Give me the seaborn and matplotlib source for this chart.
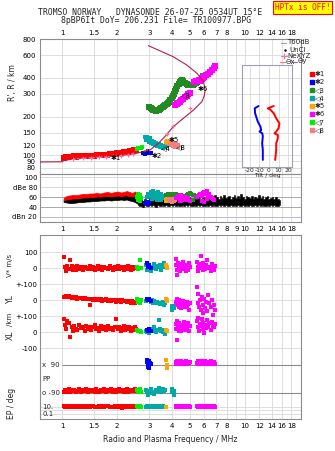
import numpy as np
import matplotlib
matplotlib.use("Agg")
import matplotlib.pyplot as plt
import seaborn as sns
from matplotlib.lines import Line2D
from matplotlib.ticker import FixedLocator, NullLocator

# ---------------- data ----------------
freq_ticks = [1, 1.5, 2, 3, 4, 5, 6, 7, 8, 9, 10, 12, 14, 16, 18]
freq_labels_top = ["1", "1.5", "2", "3", "4", "5", "6", "7", "8", "", "10", "12", "14", "16", "18"]
freq_labels_amp = ["1", "1.5", "2", "3", "4", "5", "6", "7", "8", "9", "10", "12", "14", "16", "18"]
height_ticks = [80, 90, 100, 120, 150, 200, 300, 400, 600, 800]

# true-height profile
prof_f = [0.76, 1.0, 1.02, 1.15, 1.5, 2.0, 2.5, 2.8, 3.03, 3.2, 3.37, 3.66, 4.06, 4.61, 5.24,
          5.82, 6.0, 6.07, 5.94, 5.47, 4.81, 4.06, 2.97]
prof_h = [88.7, 89, 91, 93.6, 96, 99, 103, 106.7, 110, 117, 124, 140, 167, 194, 225,
          261, 290, 322, 374, 435, 505, 585, 713]
# NeXYZ points
nexyz_f = [1.15, 1.3, 1.45, 1.6, 1.75, 1.9, 2.1, 2.3, 2.45]
nexyz_h = [93.6, 94.8, 95.8, 96.5, 97.2, 98, 99.5, 101, 102.5]
nexyz_up_f = [3.74, 4.06, 5.0]
nexyz_up_h = [146, 170, 235]

# echo traces (height panel)
o1_f = [1.02, 1.05, 1.08, 1.11, 1.14, 1.17, 1.20, 1.24, 1.28, 1.32, 1.36, 1.40, 1.45, 1.50, 1.55, 1.60,
        1.65, 1.70, 1.76, 1.82, 1.88, 1.94, 2.00, 2.06, 2.12, 2.18, 2.24, 2.30, 2.36, 2.42, 2.48, 2.54]
o1_h = [96, 97, 96.5, 97.5, 97, 98, 97.5, 98.5, 98, 99, 98.5, 99, 99.5, 99, 100, 100.5,
        100, 101, 101, 102, 102.5, 103, 103.5, 104, 105, 105.5, 106, 106.5, 107.5, 108, 109, 110]
t7_f = [2.58, 2.62, 2.66, 2.70, 2.74]
t7_h = [112, 113, 114, 113, 115]
t2_f = [2.78, 2.84, 2.90, 2.96, 3.02, 3.08]
t2_h = [104, 103, 103.5, 104, 104.5, 105]
t4_f = [2.86, 2.88, 2.92, 2.95, 2.98, 3.02, 3.05, 3.10, 3.14, 3.18, 3.22, 3.28, 3.33, 3.38, 3.45, 3.50,
        3.56, 3.62, 3.68, 3.74]
t4_h = [138, 132, 140, 134, 128, 136, 124, 130, 122, 127, 120, 124, 118, 122, 116, 120,
        114, 118, 115, 119]
t8_f = [3.78, 3.84, 3.90, 3.96, 4.02, 4.08, 4.14, 4.20, 4.26]
t8_h = [128, 127, 125, 124, 122, 121, 120, 119, 118]
t5_f = [3.70, 3.73]
t5_h = [127, 130]
t3_f = [3.00, 3.05, 3.10, 3.15, 3.20, 3.26, 3.32, 3.38, 3.44, 3.50, 3.56, 3.62, 3.68, 3.74, 3.80, 3.86,
        3.92, 3.98, 4.04, 4.10, 4.16, 4.22, 4.28, 4.34, 4.40, 4.46, 4.52, 4.60, 4.70, 4.80, 4.90, 5.00,
        5.10, 5.20, 5.30, 5.40, 5.50, 5.60, 5.70, 5.80, 5.90]
t3_h = [238, 232, 228, 226, 224, 222, 224, 226, 228, 232, 236, 240, 245, 250, 256, 262,
        270, 280, 290, 302, 315, 330, 345, 360, 372, 382, 388, 380, 366, 358, 354, 352,
        352, 354, 358, 364, 370, 378, 388, 400, 415]
t6a_f = [4.16, 4.24, 4.32, 4.40, 4.50, 4.60, 4.70, 4.80, 4.90, 5.00]
t6a_h = [246, 250, 256, 262, 268, 274, 282, 290, 298, 306]
t6b_f = [5.30, 5.40, 5.50, 5.60, 5.70, 5.80, 5.90, 6.00, 6.15, 6.30, 6.45, 6.60, 6.75, 6.88]
t6b_h = [372, 380, 376, 384, 380, 390, 396, 404, 418, 432, 446, 460, 476, 492]

# tilt inset
tilt_h_blue = [242, 232, 212, 183, 167, 157, 153, 148, 140, 124, 110, 92]
tilt_blue = [-11, -15, -14.6, -11.8, -9, -8.2, -10, -7, -6.5, -7.2, -6.5, -6.5]
tilt_h_red = [242, 238, 232, 226, 212, 194, 177, 162, 153, 148, 144, 136, 124, 110, 92]
tilt_red = [5, 2.3, -1.3, 1.6, 5, 7.6, 11, 10, 7.6, 5.8, 9.3, 9.3, 7.6, 7.6, 6.5]

# amplitude panel
amp_red_f = [1.02, 1.06, 1.10, 1.15, 1.20, 1.25, 1.30, 1.36, 1.42, 1.48, 1.55, 1.62, 1.70, 1.78, 1.86,
             1.94, 2.02, 2.10, 2.18, 2.26, 2.34, 2.42, 2.50, 2.56, 2.60]
amp_red_hi = [58, 62, 63, 64, 64, 65, 66, 66, 67, 67, 68, 67, 69, 70, 68, 70, 71, 69, 70, 72, 70, 68, 71, 69, 64]
amp_red_lo = [54, 55, 56, 57, 57, 58, 59, 59, 60, 60, 61, 61, 62, 62, 61, 62, 63, 62, 63, 63, 62, 61, 62, 60, 56]
amp_blk_lo = [50, 49, 48, 48, 49, 50, 50, 51, 51, 52, 52, 53, 53, 54, 53, 54, 54, 55, 54, 55, 53, 52, 50, 48, 46]
noise_f = [2.60, 2.66, 2.72, 2.78, 2.84, 2.90, 2.96, 3.02, 3.08, 3.14, 3.20, 3.27, 3.34, 3.41, 3.48, 3.55,
           3.62, 3.70, 3.78, 3.86, 3.94, 4.02, 4.10, 4.19, 4.28, 4.37, 4.46, 4.56, 4.66, 4.76, 4.86, 4.97,
           5.08, 5.19, 5.30, 5.42, 5.54, 5.66, 5.78, 5.91, 6.04, 6.17, 6.31, 6.45, 6.59, 6.74, 6.89, 7.04,
           7.20, 7.36, 7.52, 7.69, 7.86, 8.03, 8.21, 8.39, 8.58, 8.77, 8.96, 9.16, 9.36, 9.57, 9.78, 10.0,
           10.2, 10.4, 10.7, 10.9, 11.2, 11.4, 11.7, 11.9, 12.2, 12.5, 12.7, 13.0, 13.3, 13.6, 13.9, 14.2,
           14.5, 14.8, 15.2, 15.5]
noise_top = [60, 55, 58, 52, 56, 50, 54, 58, 52, 55, 57, 53, 60, 55, 58, 54, 56, 52, 57, 55, 53, 58, 56, 54,
             57, 55, 59, 56, 53, 58, 55, 60, 57, 54, 59, 56, 62, 58, 55, 60, 57, 63, 59, 56, 61, 58, 64, 60,
             57, 62, 59, 65, 58, 61, 63, 57, 60, 64, 58, 62, 59, 66, 61, 57, 63, 60, 58, 62, 56, 61, 59, 64,
             58, 62, 57, 60, 63, 56, 59, 61, 57, 60, 56, 55]
noise_base = [44, 42, 43, 41, 44, 42, 43, 45, 42, 44, 43, 41, 44, 42, 43, 45, 42, 44, 43, 42, 44, 43, 45, 42,
              44, 43, 42, 44, 43, 45, 42, 44, 43, 42, 44, 43, 45, 42, 44, 43, 42, 44, 43, 45, 42, 44, 43, 42,
              44, 43, 45, 42, 44, 43, 42, 44, 43, 45, 42, 44, 43, 42, 44, 43, 45, 42, 44, 43, 42, 44, 43, 45,
              42, 44, 43, 42, 44, 43, 45, 42, 44, 43, 42, 44]
amp_teal_f = [2.9, 2.95, 3.0, 3.05, 3.1, 3.15, 3.2, 3.25, 3.3, 3.35, 3.4, 3.45, 3.5, 3.55, 3.6, 3.1, 3.2, 3.3, 3.4, 3.5]
amp_teal = [60, 66, 62, 70, 64, 72, 66, 68, 62, 70, 65, 60, 67, 63, 58, 56, 58, 55, 57, 54]
amp_lime_f = [2.58, 2.62, 2.66, 2.70, 2.62, 2.66]
amp_lime = [60, 66, 64, 58, 55, 52]
amp_blue_f = [2.85, 2.9, 2.95, 3.0]
amp_blue = [48, 50, 47, 51]
amp_orange_f = [3.7, 3.72, 3.74]
amp_orange = [55, 52, 58]
amp_salmon_f = [3.8, 3.86, 3.92, 3.98, 4.04, 4.1, 4.16, 3.9, 4.0]
amp_salmon = [58, 56, 55, 57, 54, 52, 55, 52, 50]
amp_green_f = [3.7, 3.8, 3.9, 4.0, 4.1, 4.2, 4.3, 4.4, 4.5, 4.6, 4.7, 4.8, 4.9, 5.0, 5.1, 5.2, 5.3, 5.4, 5.5,
               4.5, 4.9, 5.2]
amp_green = [64, 66, 65, 67, 64, 66, 63, 65, 62, 60, 62, 64, 66, 68, 66, 64, 65, 62, 60, 52, 56, 54]
amp_mag_f = [4.2, 4.3, 4.4, 4.5, 4.6, 4.7, 4.8, 4.9, 5.0, 5.5, 5.6, 5.7, 5.8, 5.9, 6.0, 6.1, 6.2, 6.3, 6.4,
             6.5, 6.6, 6.7, 6.8, 4.4, 4.6, 5.8, 6.0, 6.2]
amp_mag = [58, 62, 60, 64, 56, 60, 54, 58, 52, 60, 64, 66, 62, 68, 70, 66, 72, 62, 66, 60, 58, 56, 55,
           52, 54, 52, 50, 56]

# lower panel: red O echoes
red_f = [1.02, 1.04, 1.05, 1.07, 1.09, 1.11, 1.13, 1.15, 1.17, 1.19, 1.21, 1.24, 1.27, 1.30, 1.33, 1.36,
         1.39, 1.42, 1.45, 1.48, 1.51, 1.54, 1.57, 1.60, 1.63, 1.66, 1.70, 1.74, 1.78, 1.82, 1.86, 1.90,
         1.94, 1.98, 2.02, 2.06, 2.10, 2.14, 2.18, 2.22, 2.26, 2.30, 2.34, 2.38, 2.42, 2.46, 2.50, 2.55]
red_v = [72, 10, -20, 12, -5, 50, 15, -12, 8, -8, 12, -4, 6, -10, 10, 2, -6, 14, -2, 8, -12, 4, 16, -4,
         6, -8, 10, 0, -6, 12, 4, -10, 8, -2, 14, -6, 2, 10, -8, 6, -4, 12, 0, -10, 8, -2, 6, 0]
red_yl = [20, 22, 25, 18, 24, 20, 15, 22, 12, 18, 10, 16, 14, 8, 12, 6, 10, -31, 8, 4, 10, 2, 6, 0,
          8, -2, 4, 6, -4, 2, -6, 4, 0, -8, 2, -4, -10, 0, -6, -2, -12, -4, -8, -14, -6, -10, -16, -12]
red_xl = [80, 45, 20, 70, 60, -30, 35, 10, 40, 20, 15, 45, 25, 30, 10, 40, 20, 35, 15, 30, 45, 20, 25, 10,
          38, 22, 30, 15, 40, 20, 28, 12, 35, 80, 18, 30, 10, 25, 40, 15, 30, 20, 35, 10, 25, 15, 30, 20]
red_pp = [10, 20, 5, 15, 25, 8, 18, 12, 22, 5, 15, 28, 10, 20, 12, 25, 8, 18, 14, 22, 10, 26, 16, 6,
          20, 12, 24, 8, 18, 14, 28, 10, 20, 6, 16, 24, 12, 22, 8, 18, 26, 10, 16, 22, 12, 20, 28, 15]
red_ep = [12, 9, 15, 10, 8, 14, 11, 7, 13, 10, 16, 9, 12, 6, 14, 10, 18, 8, 12, 15, 9, 11, 7, 13,
          10, 16, 8, 12, 14, 9, 11, 6, 13, 10, 15, 8, 12, 5, 11, 14, 9, 12, 7, 13, 10, 8, 12, 9]

teal_f = [2.88, 2.92, 2.96, 3.00, 3.05, 3.10, 3.15, 3.20, 3.26, 3.32, 3.38, 3.44, 3.50, 3.56, 3.62, 3.68]
teal_v = [20, -10, 15, 5, -20, 10, 0, 25, -5, 15, 5, 20, -10, 10, 30, 5]
teal_yl = [-5, 10, 0, 5, -10, 0, -15, -5, -20, -10, -15, -25, -20, -10, -30, -15]
teal_xl = [10, 0, 15, -5, 20, 5, 10, 35, 0, 15, 75, 20, 10, 0, 15, -10]
teal_pp = [20, 5, -10, 15, 25, 0, 10, -5, 20, 15, 30, 5, 10, 25, 15, 20]
teal_ep = [10, 14, 8, 12, 16, 9, 11, 13, 7, 12, 10, 15, 9, 12, 8, 11]
teal2_f = [3.98, 4.02, 4.08, 4.1]
teal2_yl = [-35, -62, -45, -50]
teal2_pp = [25, 5, 15, -10]

blue_f = [2.90, 2.95, 3.00, 3.05]
blue_v = [30, 10, 20, 0]
blue_yl = [10, 0, 5, -5]
blue_xl = [15, 5, 20, 10]
blue_x90_f = [2.90, 2.93, 2.96, 2.99, 3.02, 3.05, 2.95, 3.00]
blue_x90 = [20, 30, 10, 25, 15, 5, -10, -20]

lime_f = [2.58, 2.62, 2.66, 2.70]
lime_v = [10, -5, 50, 0]
lime_yl = [5, -10, -15, 0]
lime_xl = [15, 5, 10, 0]
lime_pp = [20, 10, 25, 5]
lime_ep = [12, 8, 14, 10]

orange_f = [3.72, 3.74, 3.76]
orange_v = [20, 0, 10]
orange_yl = [5, 0, -5]
orange_xl = [15, 5, 10]
orange_x90 = [30, 0, -20]

magA_f = [4.18, 4.22, 4.26, 4.30, 4.34, 4.38, 4.42, 4.46, 4.50, 4.55, 4.60, 4.65, 4.70, 4.75, 4.80, 4.85,
          4.90, 4.95, 5.00, 4.28]
magA_v = [60, 20, -10, 30, 5, 15, -20, 10, 25, -5, 40, 0, 15, -15, 20, 5, -10, 30, 10, -40]
magA_yl = [-10, -30, 10, -20, -40, 0, -25, -50, -15, -35, -5, -30, -45, -20, -10, -40, -25, -60, -15, 5]
magA_xl = [50, 20, 70, 35, 10, 60, 25, 45, 5, 40, 30, 65, 15, 50, 35, 20, 55, 10, 40, -50]
magA_x90 = [20, 10, 25, 5, 15, 20, 10, 25, 5, 15, 20, 10, 15, 25, 5, 20, 10, 15, 20, 10]
magA_ep = [10, 14, 8, 12, 9, 15, 11, 7, 13, 10, 12, 8, 14, 11, 9, 13, 10, 12, 8, 11]
magB_f = [5.45, 5.52, 5.58, 5.64, 5.70, 5.76, 5.82, 5.88, 5.94, 6.00, 6.08, 6.16, 6.24, 6.32, 6.40, 6.50,
          6.60, 6.70, 6.80, 6.90]
magB_v = [40, 10, -20, 25, 0, 75, 15, -10, 30, 5, -5, 20, 50, 0, 10, -15, 25, 5, -10, 15]
magB_yl = [80, -20, 40, -40, 0, -60, 20, -80, -30, 10, -50, -10, -70, 30, -20, -40, 0, -90, -30, -60]
magB_xl = [70, 30, 90, 10, 50, 40, 80, 20, 60, -5, 45, 25, 75, 35, 55, 15, 65, 40, 30, 50]
magB_x90 = [15, 25, 5, 20, 10, 25, 15, 5, 20, 10, 25, 15, 5, 20, 10, 25, 15, 5, 20, 10]
magB_ep = [12, 9, 14, 10, 8, 13, 11, 15, 9, 12, 10, 14, 8, 11, 13, 9, 12, 10, 14, 11]

legend_labels = ["\u27311", "\u27312", "\u25c13", "\u25c14", "\u27315", "\u27316", "\u25c17", "\u25c18"]
C = ["#ff0000", "#0000ff", "#228b22", "#00a8a8", "#ffa500", "#ff00ff", "#00ee00", "#f08080"]
PROF_C = "#b01e4a"
PINK = "#ff6fa0"
GRID = "#d9d9d9"
SPINE = "#8c8c8c"

# ---------------- figure ----------------
sns.set_theme(style="white")
plt.rcParams['font.family'] = ['DejaVu Sans']
W, H = 335, 451
fig = plt.figure(figsize=(W / 100, H / 100), dpi=100)


def rect(x0, y0, x1, y1):
    return [x0 / W, 1 - y1 / H, (x1 - x0) / W, (y1 - y0) / H]


def fx(px):
    return px / W


def fy(py):
    return 1 - py / H


ax_h = fig.add_axes(rect(40, 38.5, 301, 174))
ax_a = fig.add_axes(rect(40, 174, 301, 222))
ax_l = fig.add_axes(rect(40, 235, 301, 419.3))
ax_t = fig.add_axes(rect(242, 65, 292, 167))

XL_ = (0.758, 20.3)
for ax in (ax_h, ax_a, ax_l):
    ax.set_xscale('log')
    ax.set_xlim(*XL_)
    ax.xaxis.set_major_locator(FixedLocator(freq_ticks))
    ax.xaxis.set_minor_locator(NullLocator())
    ax.grid(True, axis='x', color=GRID, lw=0.6)
    for s in ax.spines.values():
        s.set_color(SPINE)
        s.set_linewidth(0.8)
    ax.tick_params(labelsize=5, length=0, pad=2, colors='black')
    ax.set_facecolor('white')


def pts(ax, x, y, c, s=6, m='s', z=3):
    sns.scatterplot(x=list(x), y=list(y), ax=ax, color=c, marker=m, s=s,
                    linewidth=0, legend=False, zorder=z)


# ---- height panel ----
ax_h.set_yscale('log')
ax_h.set_ylim(71.5, 811)
ax_h.yaxis.set_major_locator(FixedLocator(height_ticks))
ax_h.yaxis.set_minor_locator(NullLocator())
ax_h.set_yticklabels([str(v) for v in height_ticks])
ax_h.grid(True, axis='y', color=GRID, lw=0.6)
ax_h.xaxis.tick_top()
ax_h.set_xticklabels(freq_labels_top)
ax_h.tick_params(axis='x', labeltop=True, labelbottom=False, pad=1.5)
ax_h.tick_params(axis='y', pad=3)

sns.lineplot(x=prof_f, y=prof_h, sort=False, estimator=None, ax=ax_h, color=PROF_C, lw=0.8, zorder=4)
sns.lineplot(x=nexyz_f, y=nexyz_h, sort=False, estimator=None, ax=ax_h, color=PINK, lw=0.8,
             linestyle=(0, (2, 1.5)), zorder=4)
pts(ax_h, nexyz_f + nexyz_up_f, nexyz_h + nexyz_up_h, PINK, s=12, m='+', z=5)
ax_h.collections[-1].set_linewidth(0.8)

pts(ax_h, o1_f, o1_h, C[0], s=14)
pts(ax_h, t7_f, t7_h, C[6], s=12)
pts(ax_h, t2_f, t2_h, C[1], s=12)
pts(ax_h, t4_f, t4_h, C[3], s=10)
pts(ax_h, t8_f, t8_h, C[7], s=14)
pts(ax_h, t5_f, t5_h, C[4], s=8)
pts(ax_h, t3_f, t3_h, C[2], s=16)
pts(ax_h, t6a_f, t6a_h, C[5], s=16)
pts(ax_h, t6b_f, t6b_h, C[5], s=16)

lab_kw = dict(fontsize=5, color='black', ha='left', va='center', zorder=6)
for txt, f, h in [("\u27311", 1.85, 96), ("\u27312", 3.08, 99), ("\u25c17", 2.70, 108),
                  ("\u25c14", 3.50, 113), ("\u27315", 3.85, 132), ("\u25c18", 4.22, 116),
                  ("\u25c13", 4.45, 293), ("\u27316", 5.50, 330)]:
    ax_h.text(f, h, txt, **lab_kw)

# ---- tilt inset ----
ax_t.set_yscale('log')
ax_t.set_ylim(81, 505)
ax_t.set_xlim(-28.4, 24.2)
ax_t.yaxis.set_major_locator(FixedLocator([100, 120, 150, 200, 300, 400]))
ax_t.yaxis.set_minor_locator(NullLocator())
ax_t.set_yticklabels([])
ax_t.set_xticks([-20, -10, 0, 10, 20])
ax_t.set_xticklabels(["-20", "-10", "0", "10", "20"])
ax_t.grid(True, color=GRID, lw=0.6)
ax_t.tick_params(labelsize=4.3, length=0, pad=1)
ax_t.set_xlabel("Tilt / deg", fontsize=4.3, labelpad=0)
ax_t.set_ylabel("")
for s in ax_t.spines.values():
    s.set_color("#a0a0b0")
    s.set_linewidth(0.8)
ax_t.set_facecolor('white')
sns.lineplot(x=tilt_blue, y=tilt_h_blue, sort=False, estimator=None, orient='y', ax=ax_t, color=C[1], lw=1.4)
sns.lineplot(x=tilt_red, y=tilt_h_red, sort=False, estimator=None, orient='y', ax=ax_t, color=C[0], lw=1.4)
ax_t.set_xlabel("Tilt / deg", fontsize=4.3, labelpad=0)
ax_t.set_ylabel("")

# ---- amplitude panel ----
ax_a.set_ylim(10, 106)
ax_a.set_yticks([20, 40, 60, 80, 100])
ax_a.set_yticklabels(["dBn 20", "40", "60", "dBe 80", "100"])
ax_a.set_xticklabels(freq_labels_amp)
ax_a.tick_params(axis='x', pad=3)
ax_a.tick_params(axis='y', pad=2)
for v, c in [(20, "#b8b8d8"), (40, "#a8a8a8"), (60, "#a8a8a8"), (80, GRID), (100, GRID)]:
    ax_a.axhline(v, color=c, lw=0.7, zorder=1)
ax_a.fill_between(amp_red_f, amp_blk_lo, amp_red_lo, color='black', lw=0.5, zorder=2)
ax_a.fill_between(amp_red_f, amp_red_lo, amp_red_hi, color=C[0], lw=0.5, zorder=3)
ax_a.fill_between(noise_f, noise_base, noise_top, step='mid', color='black', lw=0.4, zorder=2)
pts(ax_a, amp_lime_f, amp_lime, C[6], s=10)
pts(ax_a, amp_blue_f, amp_blue, C[1], s=10)
pts(ax_a, amp_teal_f, amp_teal, C[3], s=12)
pts(ax_a, amp_orange_f, amp_orange, C[4], s=10)
pts(ax_a, amp_salmon_f, amp_salmon, C[7], s=12)
pts(ax_a, amp_green_f, amp_green, C[2], s=12)
pts(ax_a, amp_mag_f, amp_mag, C[5], s=12)

# ---- lower panel ----
V0, YL0, XL0, X90, PP0 = 0, -200, -400, -606, -781


def ep_y(vals):
    return [-912 + 23.5 * (np.log10(v) + 1) for v in vals]


def off(vals, o):
    return [v + o for v in vals]


ax_l.set_ylim(-944, 208)
ax_l.set_yticks([100, 0, -100, -200, -300, -400, -500])
ax_l.set_yticklabels(["100", "0", "+-100", "0", "+-100", "0", "-100"])
ax_l.tick_params(axis='y', pad=2)
ax_l.tick_params(axis='x', pad=3)
ax_l.set_xticklabels(freq_labels_top)
for v in [100, 0, -100, -200, -300, -400, -500]:
    ax_l.axhline(v, color=GRID, lw=0.6, zorder=1)
for v in ep_y([10, 1, 0.1]):
    ax_l.axhline(v, color=GRID, lw=0.6, zorder=1)
for v in [X90, PP0]:
    ax_l.plot([1.0, XL_[1]], [v, v], color="#8c8c8c", lw=0.8, zorder=1)
ax_l.text(0.975, X90, "x  90", fontsize=5, ha='right', va='center')
ax_l.text(0.975, PP0, "o -90", fontsize=5, ha='right', va='center')
ax_l.text(0.785, -694, "PP", fontsize=5, ha='left', va='center')
ax_l.text(0.78, ep_y([10])[0], "10.", fontsize=5, ha='left', va='center')
ax_l.text(0.78, ep_y([0.1])[0], "0.1", fontsize=5, ha='left', va='center')

S = 6
for f, vv, yl, xl, c in [(red_f, red_v, red_yl, red_xl, C[0]), (teal_f, teal_v, teal_yl, teal_xl, C[3]),
                         (blue_f, blue_v, blue_yl, blue_xl, C[1]), (lime_f, lime_v, lime_yl, lime_xl, C[6]),
                         (orange_f, orange_v, orange_yl, orange_xl, C[4]),
                         (magA_f, magA_v, magA_yl, magA_xl, C[5]), (magB_f, magB_v, magB_yl, magB_xl, C[5])]:
    pts(ax_l, f, off(vv, V0), c, s=S)
    pts(ax_l, f, off(yl, YL0), c, s=S)
    pts(ax_l, f, off(xl, XL0), c, s=S)
pts(ax_l, teal2_f, off(teal2_yl, YL0), C[3], s=S)
pts(ax_l, blue_x90_f, off(blue_x90, X90), C[1], s=S + 2)
pts(ax_l, orange_f, off(orange_x90, X90), C[4], s=S)
pts(ax_l, magA_f, off(magA_x90, X90), C[5], s=S + 2)
pts(ax_l, magB_f, off(magB_x90, X90), C[5], s=S + 2)
pts(ax_l, red_f, off(red_pp, PP0), C[0], s=S + 2)
pts(ax_l, lime_f, off(lime_pp, PP0), C[6], s=S + 2)
pts(ax_l, teal_f, off(teal_pp, PP0), C[3], s=S + 2)
pts(ax_l, teal2_f, off(teal2_pp, PP0), C[3], s=S)
pts(ax_l, red_f, ep_y(red_ep), C[0], s=S + 3)
pts(ax_l, lime_f, ep_y(lime_ep), C[6], s=S + 3)
pts(ax_l, teal_f, ep_y(teal_ep), C[3], s=S + 3)
pts(ax_l, magA_f, ep_y(magA_ep), C[5], s=S + 3)
pts(ax_l, magB_f, ep_y(magB_ep), C[5], s=S + 3)
pts(ax_l, orange_f[:1], ep_y([8]), C[4], s=S + 3)

for ax in (ax_h, ax_a, ax_l):
    ax.set_xlabel("")
    ax.set_ylabel("")

# ---- texts ----
mono = 'DejaVu Sans Mono'
fig.text(fx(150), fy(12.3), "TROMSO NORWAY   DYNASONDE 26-07-25 0534UT 15\u00b0E",
         family=mono, fontsize=5.9, ha='center', va='center')
fig.text(fx(156), fy(20.7), "8pBP6It DoY= 206.231 File= TR100977.BPG",
         family=mono, fontsize=5.9, ha='center', va='center')
fig.text(fx(302.5), fy(7.3), "HPTx is OFF!", family=mono, fontsize=5.6, color='red',
         ha='center', va='center',
         bbox=dict(facecolor='#ffff00', edgecolor='red', boxstyle='square,pad=0.25', lw=0.8))
fig.text(fx(12), fy(83), "R', R / km", rotation=90, fontsize=5.5, ha='center', va='center')
fig.text(fx(10), fy(265), "V* m/s", rotation=90, fontsize=5, ha='center', va='center')
fig.text(fx(10), fy(299), "YL", rotation=90, fontsize=5.5, ha='center', va='center')
fig.text(fx(10), fy(319), "/km", rotation=90, fontsize=5, ha='center', va='center')
fig.text(fx(10), fy(335), "XL", rotation=90, fontsize=5.5, ha='center', va='center')
fig.text(fx(12), fy(403), "EP / deg", rotation=90, fontsize=5.5, ha='center', va='center')
fig.text(fx(170), fy(439), "Radio and Plasma Frequency / MHz", fontsize=5.5, ha='center', va='center')

# ---- legend (right column) ----
fig.add_artist(Line2D([fx(281), fx(286)], [fy(42.5), fy(42.5)], color='#a0a0a0', lw=0.8))
fig.text(fx(287), fy(42.5), "T60dB", fontsize=5, va='center', ha='left')
fig.add_artist(Line2D([fx(285)], [fy(49.5)], marker='.', color='black', ms=1.5, lw=0))
fig.text(fx(289), fy(49.5), "UnCl", fontsize=5, va='center', ha='left')
fig.add_artist(Line2D([fx(284)], [fy(55.5)], marker='+', color=PINK, ms=4, lw=0, mew=0.8))
fig.add_artist(Line2D([fx(281), fx(287)], [fy(55.5), fy(55.5)], color=PINK, lw=0.6))
fig.text(fx(287), fy(55.5), "NeXYZ", fontsize=5, va='center', ha='left')
fig.add_artist(Line2D([fx(280), fx(285)], [fy(61.5), fy(61.5)], color='#ff7070', lw=0.8))
fig.text(fx(285.5), fy(61.5), "\u0398x", fontsize=5, va='center', ha='left')
fig.add_artist(Line2D([fx(293), fx(297)], [fy(61.5), fy(61.5)], color='#7070ff', lw=0.8))
fig.text(fx(297.5), fy(61.5), "\u0398y", fontsize=5, va='center', ha='left')
for i, (lab, c) in enumerate(zip(legend_labels, C)):
    yy = 74 + 8 * i
    fig.add_artist(Line2D([fx(311.5)], [fy(yy)], marker='s', color=c, ms=2.6, lw=0))
    fig.text(fx(315), fy(yy), lab, fontsize=5, va='center', ha='left')

fig.savefig("out.png", dpi=100, facecolor='white')
